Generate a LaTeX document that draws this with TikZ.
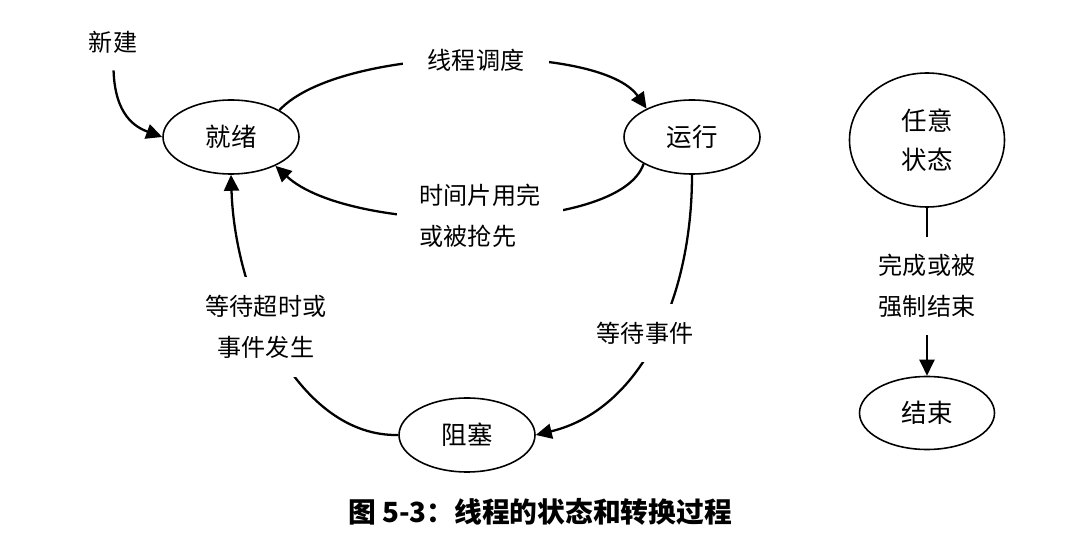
\documentclass[tikz,border=0pt]{standalone}
\usepackage{fontspec}
\setmainfont{Noto Sans CJK SC}
\usetikzlibrary{arrows.meta,shapes.geometric}

\tikzset{
  state/.style={ellipse, draw, line width=0.9pt, minimum width=2.72cm, minimum height=1.48cm,
    inner sep=0pt, align=center, font=\fontsize{14.5}{22}\selectfont},
  trans/.style={line width=1.3pt, -{Triangle[length=0.32cm, width=0.3cm]}},
  lab/.style={fill=white, inner sep=0pt, font=\fontsize{13.7}{23.3}\selectfont}
}

\begin{document}
\begin{tikzpicture}[x=0.2mm, y=-0.2mm]
  %%%%% START %%%%%
  \useasboundingbox (0, 0) rectangle (1089, 535);

  % states
  \node[state] (jiuxu) at (231, 137) {就绪};
  \node[state] (yunxing) at (692, 137) {运行};
  \node[state] (zuse) at (467, 435) {阻塞};
  \node[state, minimum width=3.1cm, minimum height=2.68cm] (renyi) at (927, 140) {任意\\状态};
  \node[state, minimum width=2.7cm, minimum height=1.46cm] (jieshu) at (927, 413) {结束};

  \node[lab] (xinjian) at (113, 42) {新建};

  % transitions
  \draw[trans, shorten <=0.34cm] (xinjian.south) .. controls (115, 115) and (135, 127) .. (jiuxu.west);
  \draw[trans] (jiuxu.29) .. controls (340, 45) and (600, 42) .. (yunxing.148);
  \draw[trans] (yunxing.209) .. controls (620, 235) and (350, 235) .. (jiuxu.327);
  \draw[trans] (yunxing.south) .. controls (692, 300) and (640, 410) .. (zuse.east);
  \draw[trans] (zuse.west) .. controls (300, 437) and (235, 300) .. (jiuxu.south);
  \draw[trans] (renyi.south) -- (jieshu.north);

  % labels
  \node[lab, inner xsep=0.5cm, inner ysep=0.1cm] (diaodu) at (476, 60) {线程调度};
  \node[lab, align=left, inner xsep=0.46cm] (qiangxian) at (480, 216) {时间片用完\\或被抢先};
  \node[lab, inner xsep=0.05cm, inner ysep=0.35cm] (shijian) at (645, 333) {等待事件};
  \node[lab, align=center, inner xsep=0.05cm, inner ysep=0.36cm] (chaoshi) at (266, 327) {等待超时或\\事件发生};
  \node[lab, align=center, inner ysep=0.34cm] (wancheng) at (927, 286) {完成或被\\强制结束};

  \node[font=\bfseries\fontsize{15.8}{20}\selectfont] (tiaoti) at (540, 512) {图 5-3：线程的状态和转换过程};
  %%%%% END %%%%%
\end{tikzpicture}
\end{document}
